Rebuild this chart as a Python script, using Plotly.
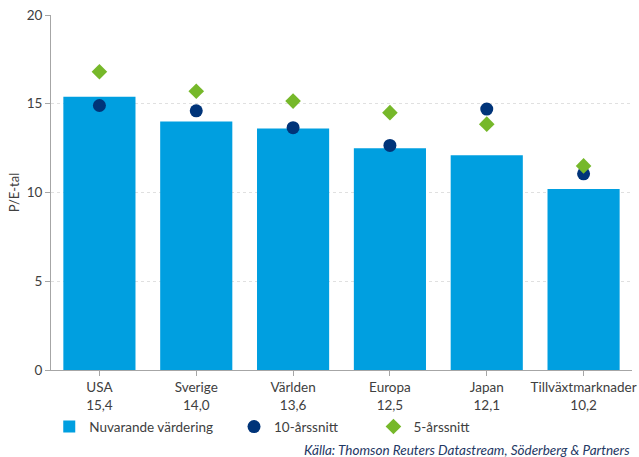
import plotly.graph_objects as go

categories = ["USA", "Sverige", "Världen", "Europa", "Japan", "Tillväxtmarknader"]
current_pe = [15.4, 14.0, 13.6, 12.5, 12.1, 10.2]
avg10 = [14.9, 14.6, 13.65, 12.65, 14.7, 11.05]
avg5 = [16.8, 15.7, 15.15, 14.5, 13.85, 11.5]
tick_labels = [f"{c}<br>{v:.1f}".replace(".", ",") for c, v in zip(categories, current_pe)]

FONT = "Lato, 'Open Sans', sans-serif"
GREY = "#404040"

fig = go.Figure()
fig.add_trace(go.Bar(
    x=categories, y=current_pe, name="Nuvarande värdering", showlegend=True,
    marker=dict(color="#009fe0", line=dict(width=0)), legend="legend",
))
fig.add_trace(go.Scatter(
    x=categories, y=avg10, mode="markers", name="10-årssnitt", showlegend=True,
    marker=dict(symbol="circle", size=13, color="#003479"), legend="legend2",
))
fig.add_trace(go.Scatter(
    x=categories, y=avg5, mode="markers", name="5-årssnitt", showlegend=True,
    marker=dict(symbol="diamond", size=12, color="#76b82a"), legend="legend3",
))

legend_common = dict(orientation="h", yanchor="middle", xanchor="left",
                     font=dict(family=FONT, size=13.5, color=GREY),
                     bgcolor="rgba(0,0,0,0)", itemwidth=30)

fig.update_layout(
    width=639, height=457,
    margin=dict(l=51, r=7, t=15, b=87, autoexpand=False),
    paper_bgcolor="white", plot_bgcolor="white",
    font=dict(family=FONT, size=13, color=GREY),
    showlegend=True,
    bargap=0.255,
    legend=dict(x=-0.003, y=-0.16, **legend_common),
    legend2=dict(x=0.315, y=-0.16, **legend_common),
    legend3=dict(x=0.555, y=-0.16, **legend_common),
    xaxis=dict(
        tickmode="array", tickvals=categories, ticktext=tick_labels,
        ticks="outside", ticklen=5, tickcolor="#a6a6a6", automargin=False,
        showline=True, linecolor="#a6a6a6", linewidth=1,
        showgrid=False, tickfont=dict(family=FONT, size=13.5, color=GREY),
    ),
    yaxis=dict(
        range=[0, 20], tickvals=[0, 5, 10, 15, 20], automargin=False,
        ticks="outside", ticklen=5, tickcolor="#a6a6a6",
        showline=True, linecolor="#a6a6a6", linewidth=1,
        showgrid=True, gridcolor="#e0e0e0", griddash="dot", gridwidth=1,
        zeroline=False,
        title=dict(text="P/E-tal", font=dict(family=FONT, size=13, color=GREY), standoff=4),
        tickfont=dict(family=FONT, size=13.5, color=GREY),
    ),
    annotations=[dict(
        text="<i>Källa: Thomson Reuters Datastream, Söderberg & Partners</i>",
        xref="paper", yref="paper", x=1.0, y=-0.225, xanchor="right", yanchor="middle",
        showarrow=False, font=dict(family=FONT, size=13.5, color="#1f3864"),
    )],
)

fig.write_html("out.html")
